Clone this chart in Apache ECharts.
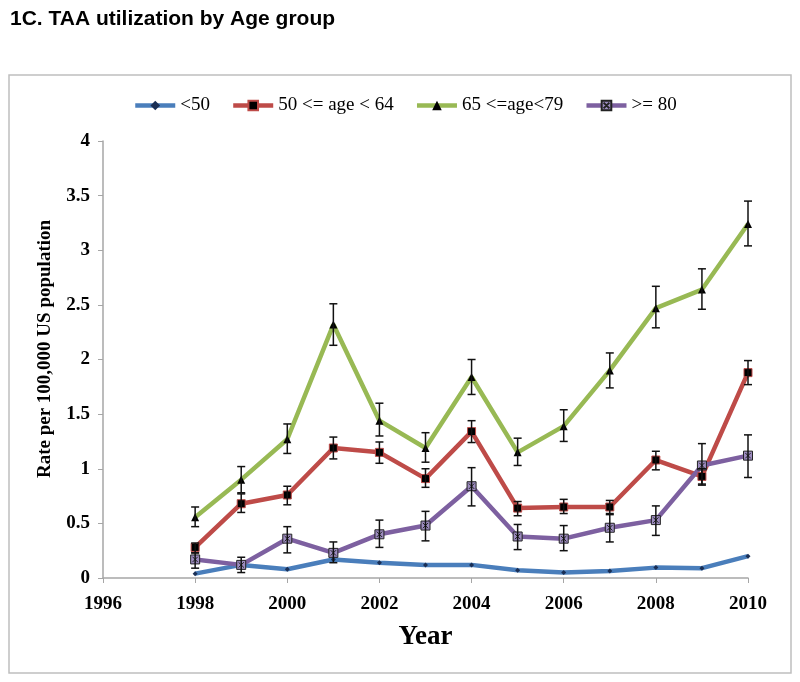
<!DOCTYPE html>
<html><head><meta charset="utf-8">
<script src="https://cdn.jsdelivr.net/npm/echarts@6/dist/echarts.min.js"></script>
<style>html,body{margin:0;padding:0;background:#fff}#c{width:800px;height:682px}</style>
</head><body><div id="c"></div>
<script>
const years = [1998,1999,2000,2001,2002,2003,2004,2005,2006,2007,2008,2009,2010];
const xTicks = [1996,1998,2000,2002,2004,2006,2008,2010];
const yTicks = [0,0.5,1,1.5,2,2.5,3,3.5,4];
const seriesNames = ['<50','50 <= age < 64','65 <=age<79','>= 80'];

const under50 = [0.04,0.12,0.08,0.17,0.14,0.12,0.12,0.07,0.05,0.065,0.095,0.09,0.20];

const age50to64 = [0.28,0.68,0.76,1.19,1.15,0.91,1.34,0.64,0.65,0.65,1.08,0.93,1.88];
const age50to64Low = [0.23,0.60,0.67,1.09,1.05,0.83,1.24,0.57,0.59,0.58,0.99,0.85,1.77];
const age50to64High = [0.32,0.77,0.84,1.29,1.245,1.00,1.44,0.70,0.72,0.71,1.16,1.00,1.99];

const age65to79 = [0.555,0.90,1.27,2.32,1.44,1.19,1.84,1.15,1.39,1.90,2.47,2.64,3.24];
const age65to79Low = [0.47,0.78,1.14,2.13,1.30,1.06,1.68,1.03,1.25,1.74,2.29,2.46,3.04];
const age65to79High = [0.65,1.02,1.41,2.51,1.60,1.33,2.00,1.28,1.54,2.06,2.67,2.83,3.45];

const age80plus = [0.17,0.12,0.36,0.23,0.40,0.48,0.84,0.38,0.36,0.46,0.53,1.03,1.12];
const age80plusLow = [0.09,0.05,0.23,0.14,0.28,0.34,0.66,0.26,0.25,0.33,0.39,0.86,0.92];
const age80plusHigh = [0.23,0.19,0.47,0.33,0.53,0.61,1.01,0.49,0.48,0.59,0.66,1.23,1.31];

const colors = ['#4a7ebb','#be4b48','#98b954','#7d60a0'];
const serif = '"Liberation Serif", "DejaVu Serif", serif';

function pairs(vals){ return years.map((y,i)=>[y, vals[i]]); }
function errData(lo, hi){ return years.map((y,i)=>[y, lo[i], hi[i]]); }

function errSeries(lo, hi){
  return {
    type:'custom', silent:true, z:5,
    data: errData(lo, hi),
    encode:{x:0, y:[1,2]},
    renderItem: function(params, api){
      const x = api.value(0);
      const a = api.coord([x, api.value(1)]);
      const b = api.coord([x, api.value(2)]);
      const w = 4;
      const st = {stroke:'#111', lineWidth:1.5};
      return {type:'group', children:[
        {type:'line', shape:{x1:a[0],y1:a[1],x2:b[0],y2:b[1]}, style:st},
        {type:'line', shape:{x1:a[0]-w,y1:a[1],x2:a[0]+w,y2:a[1]}, style:st},
        {type:'line', shape:{x1:b[0]-w,y1:b[1],x2:b[0]+w,y2:b[1]}, style:st}
      ]};
    }
  };
}

function lineSeries(name, vals, color, symbol, size, itemStyle){
  return {
    name: name, type:'line', data: pairs(vals), z:3,
    symbol: symbol, symbolSize: size, showSymbol:true,
    lineStyle:{color:color, width:4.5},
    itemStyle: itemStyle,
    emphasis:{disabled:true}
  };
}

const chart = echarts.init(document.getElementById('c'), null, {renderer:'canvas'});
chart.setOption({
  animation:false,
  backgroundColor:'#fff',
  title:{
    text:'1C. TAA utilization by Age group', left:5, top:4,
    textStyle:{fontFamily:'"Liberation Sans", Arial, sans-serif', fontSize:21, fontWeight:'bold', color:'#000'}
  },
  legend:{
    left:128, top:91, itemWidth:40, itemHeight:12, itemGap:21,
    data: seriesNames,
    lineStyle:{width:4.5},
    textStyle:{fontFamily:serif, fontSize:19, color:'#000'}
  },
  grid:{left:103, right:52, top:141, bottom:104, containLabel:false},
  xAxis:{
    type:'value', min:xTicks[0], max:xTicks[xTicks.length-1], interval:2,
    name:'Year', nameLocation:'middle', nameGap:46,
    nameTextStyle:{fontFamily:serif, fontSize:27, fontWeight:'bold', color:'#000'},
    axisLine:{lineStyle:{color:'#a6a6a6', width:1.5}},
    axisTick:{show:true, length:5, lineStyle:{color:'#a6a6a6'}},
    splitLine:{show:false},
    axisLabel:{margin:17, formatter: v=>String(v), fontFamily:serif, fontSize:19, fontWeight:'bold', color:'#000'}
  },
  yAxis:{
    type:'value', min:yTicks[0], max:yTicks[yTicks.length-1], interval:0.5,
    axisLine:{show:true, lineStyle:{color:'#a6a6a6', width:1.5}},
    axisTick:{show:true, length:5, lineStyle:{color:'#a6a6a6'}},
    splitLine:{show:false},
    axisLabel:{margin:13, fontFamily:serif, fontSize:19, fontWeight:'bold', color:'#000'}
  },
  graphic:[
    {type:'rect', shape:{x:9, y:75, width:782, height:598}, style:{fill:'none', stroke:'#bfbfbf', lineWidth:1.5}, silent:true, z:-1},
    {type:'text', x:45, y:349, rotation:Math.PI/2, style:{text:'Rate per 100,000 US population', fontFamily:serif, fontSize:19, fontWeight:'bold', fill:'#000', align:'center', verticalAlign:'middle'}}
  ],
  series:[
    lineSeries(seriesNames[0], under50, colors[0], 'diamond', 5, {color:'#1a2f55'}),
    lineSeries(seriesNames[1], age50to64, colors[1], 'rect', 8, {color:'#000', borderColor:colors[1], borderWidth:1}),
    lineSeries(seriesNames[2], age65to79, colors[2], 'triangle', 8, {color:'#000'}),
    lineSeries(seriesNames[3], age80plus, colors[3], 'path://M0,0L10,0L10,10L0,10Z M2,2L8,8 M8,2L2,8', 9, {color:'#9d8cc0', borderColor:'#222', borderWidth:1}),
    errSeries(age50to64Low, age50to64High),
    errSeries(age65to79Low, age65to79High),
    errSeries(age80plusLow, age80plusHigh)
  ]
});
</script></body></html>
